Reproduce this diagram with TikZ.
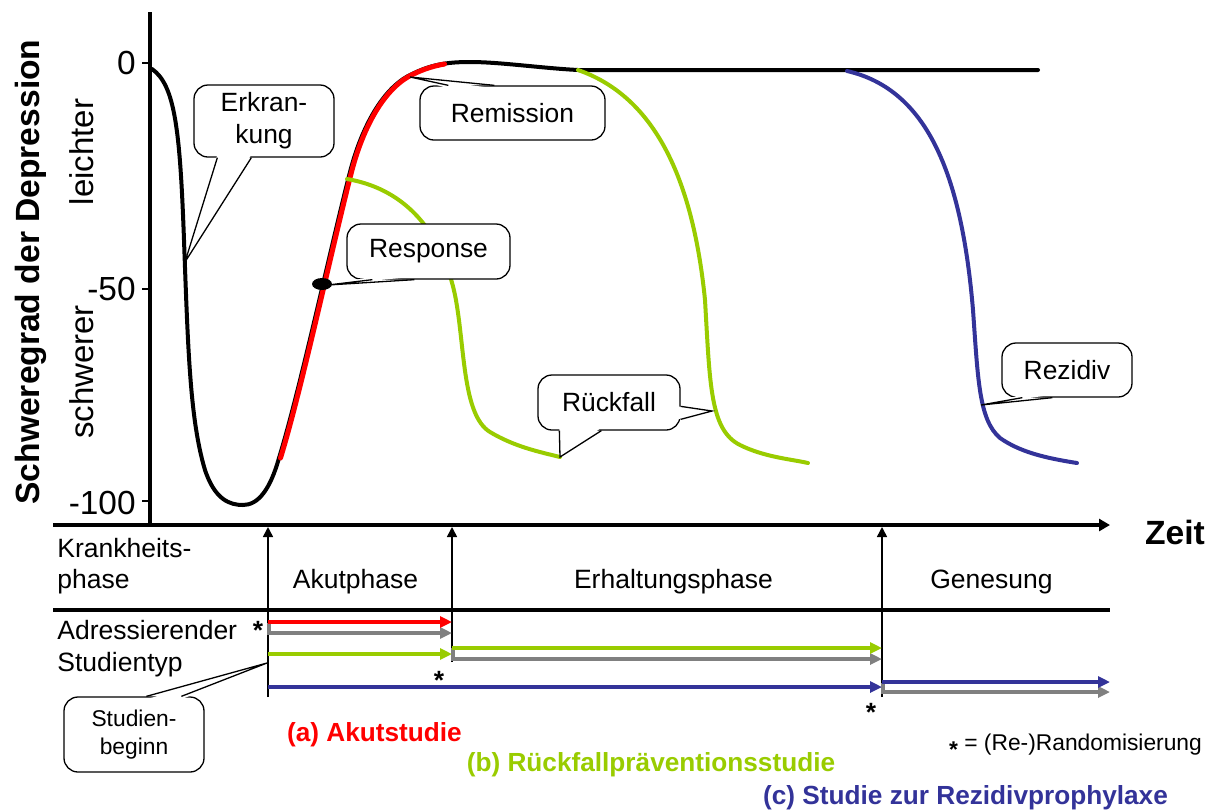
\documentclass[tikz,border=0pt]{standalone}
\usepackage{fontspec}
\setmainfont{Liberation Sans}
\usetikzlibrary{arrows.meta,calc,shapes.geometric}
\definecolor{cred}{RGB}{255,0,0}
\definecolor{cgreen}{RGB}{153,204,0}
\definecolor{cblue}{RGB}{51,51,153}
\definecolor{cgray}{RGB}{128,128,128}
\tikzset{
  crv/.style={line width=2pt, line cap=round, line join=round},
  axline/.style={line width=2pt},
  cbox/.style={draw, fill=white, line width=0.65pt, rounded corners=7pt, align=center,
    font=\fontsize{13.2}{16}\selectfont, inner sep=0pt},
  cline/.style={line width=0.65pt, line join=miter},
  lbl/.style={font=\fontsize{13.25}{15.5}\selectfont, inner sep=0pt},
  ticklbl/.style={font=\fontsize{16.7}{20}\selectfont, inner sep=0pt, anchor=east},
  sidelbl/.style={font=\fontsize{16.5}{20}\selectfont, inner sep=0pt, rotate=90},
  sarrow/.style={line width=2pt, line join=miter, -{Triangle[length=6pt,width=5.5pt]}},
  uparrow/.style={line width=0.8pt, -{Triangle[length=5pt,width=5pt]}},
  star/.style={font=\bfseries\fontsize{13.2}{16}\selectfont, inner sep=0pt, anchor=north},
  legend/.style={font=\bfseries\fontsize{13.1}{16}\selectfont, inner sep=0pt, anchor=base},
}
\begin{document}
\begin{tikzpicture}[x=0.5pt,y=-0.5pt]
\fill[white] (0,0) rectangle (1215,810);
\useasboundingbox (0,0) rectangle (1215,810);

% ---------- axes ----------
\draw[line width=1.6pt] (150,12) -- (150,525);
\foreach \yy in {63,289,501} \draw[line width=0.8pt] (142,\yy) -- (150,\yy);
\node[ticklbl] (t0) at (136,63) {0};
\node[ticklbl] (t50) at (136,289) {-50};
\node[ticklbl] (t100) at (136,503) {-100};
\node[sidelbl] (leicht) at (82,152) {leichter};
\node[sidelbl] (schwer) at (82,372) {schwerer};
\node[font=\bfseries\fontsize{16.8}{20}\selectfont, inner sep=0pt, rotate=90] (ylab) at (31,272) {Schweregrad der Depression};

\draw[axline, -{Triangle[length=5.5pt,width=6pt]}] (53,525) -- (1110,525);
\node[font=\bfseries\fontsize{16.8}{20}\selectfont, inner sep=0pt] (zeit) at (1175,532) {Zeit};
\draw[axline] (53,610) -- (1110,610);

% ---------- curves ----------
\draw[crv] (152,69) .. controls (175,85) and (180,130) .. (184,240)
  .. controls (188,350) and (190,420) .. (205,470)
  .. controls (215,500) and (230,505) .. (243,505)
  .. controls (258,505) and (270,490) .. (279,458)
  .. controls (300,390) and (330,250) .. (350,172)
  .. controls (360,133) and (380,90) .. (410,75)
  .. controls (430,65) and (445,62) .. (470,62)
  .. controls (500,62) and (540,68) .. (578,70) -- (1038,70);
\draw[crv, cred, line width=2.5pt, xshift=0.75pt] (279,458)
  .. controls (300,390) and (330,250) .. (350,172)
  .. controls (360,133) and (380,90) .. (410,75)
  .. controls (422,69) and (432,66) .. (443,64);
\draw[crv, cgreen] (347,179) .. controls (400,188) and (440,225) .. (455,295)
  .. controls (465,345) and (462,415) .. (490,432)
  .. controls (515,447) and (540,452) .. (560,457);
\draw[crv, cgreen] (578,70) .. controls (650,95) and (692,170) .. (705,300)
  .. controls (710,385) and (710,430) .. (740,445)
  .. controls (764,457) and (790,459) .. (808,463);
\draw[crv, cblue] (847,71) .. controls (930,90) and (962,180) .. (973,310)
  .. controls (978,380) and (979,420) .. (1000,438)
  .. controls (1020,452) and (1045,458) .. (1077,463);

\node[ellipse, fill=black, minimum width=10pt, minimum height=6pt, inner sep=0pt] (dot) at (322,284) {};

% ---------- callouts ----------
\coordinate (erkTip) at (185,262);
\coordinate (remTip) at (410,77);
\coordinate (resTip) at (328,285);
\coordinate (rueTipA) at (560,457);
\coordinate (rueTipB) at (712,411);
\coordinate (rezTip) at (981,405);
\coordinate (stuTip) at (267,663);

\node[cbox, minimum width=70pt, minimum height=36pt] (erk) at (264,121) {Erkran-\\kung};
\fill[white] ($(erk.south west)+(24,-3)$) -- (erkTip) -- ($(erk.south west)+(58,-3)$) -- cycle;
\draw[cline] ($(erk.south west)+(24,0)$) -- (erkTip) -- ($(erk.south west)+(58,0)$);

\node[cbox, minimum width=92.5pt, minimum height=27pt] (rem) at (512.5,113) {Remission};
\fill[white] ($(rem.north west)+(29,3)$) -- (remTip) -- ($(rem.north west)+(75,3)$) -- cycle;
\draw[cline] ($(rem.north west)+(29,0)$) -- (remTip) -- ($(rem.north west)+(75,0)$);

\node[cbox, minimum width=81.5pt, minimum height=27.5pt] (res) at (428.5,251.5) {Response};
\fill[white] ($(res.south west)+(26,-3)$) -- (resTip) -- ($(res.south west)+(68,-3)$) -- cycle;
\draw[cline] ($(res.south west)+(26,0)$) -- (resTip) -- ($(res.south west)+(68,0)$);

\node[cbox, minimum width=71pt, minimum height=27.5pt] (rue) at (609,402.5) {Rückfall};
\fill[white] ($(rue.south west)+(22,-3)$) -- (rueTipA) -- ($(rue.south west)+(64,-3)$) -- cycle;
\draw[cline] ($(rue.south west)+(22,0)$) -- (rueTipA) -- ($(rue.south west)+(64,0)$);
\fill[white] ($(rue.north east)+(-3,32)$) -- (rueTipB) -- ($(rue.north east)+(-3,45)$) -- cycle;
\draw[cline] ($(rue.north east)+(0,32)$) -- (rueTipB) -- ($(rue.north east)+(0,45)$);

\node[cbox, minimum width=65pt, minimum height=27pt] (rez) at (1067,370) {Rezidiv};
\fill[white] ($(rez.south west)+(21,-3)$) -- (rezTip) -- ($(rez.south west)+(51,-3)$) -- cycle;
\draw[cline] ($(rez.south west)+(21,0)$) -- (rezTip) -- ($(rez.south west)+(51,0)$);

% ---------- phase table ----------
\node[lbl, anchor=west, align=left] (kph) at (57,566) {Krankheits-\\phase};
\node[lbl, anchor=base] (akut) at (355.5,588) {Akutphase};
\node[lbl, anchor=base] (erh) at (673.5,588) {Erhaltungsphase};
\node[lbl, anchor=base] (gen) at (991.5,588) {Genesung};
\node[lbl, anchor=west, align=left, font=\fontsize{13.25}{16}\selectfont] (adr) at (57,649) {Adressierender\\Studientyp};

\coordinate (pA) at (268,697);
\coordinate (pB) at (452,662);
\coordinate (pC) at (882,697);
\draw[uparrow] (pA) -- (268,527);
\draw[uparrow] (pB) -- (452,527);
\draw[uparrow] (pC) -- (882,527);

% study arrows
\draw[sarrow, cgray] (269,623) -- (269,633) -- (452,633);
\draw[sarrow, cred] (268,622) -- (452,622);
\draw[sarrow, cgreen] (268,654) -- (452,654);
\draw[sarrow, cgray] (453,648) -- (453,659) -- (882,659);
\draw[sarrow, cgreen] (452,648) -- (882,648);
\draw[sarrow, cblue] (268,687) -- (882,687);
\draw[sarrow, cgray] (883,683) -- (883,692) -- (1110,692);
\draw[sarrow, cblue] (882,682) -- (1110,682);

\node[star] (s1) at (258,621) {*};
\node[star] (s2) at (439,671) {*};
\node[star] (s3) at (871,703) {*};

\node[cbox, minimum width=70pt, minimum height=37.5pt, font=\fontsize{11.4}{14}\selectfont] (stu) at (134,734.5) {Studien-\\beginn};
\fill[white] ($(stu.north west)+(83,3)$) -- (stuTip) -- ($(stu.north west)+(118,3)$) -- cycle;
\draw[cline] ($(stu.north west)+(83,0)$) -- (stuTip) -- ($(stu.north west)+(118,0)$);

% ---------- legend ----------
\node[legend, text=cred] (la) at (374.5,741) {(a) Akutstudie};
\node[legend, text=cgreen] (lb) at (651,771) {(b) Rückfallpräventionsstudie};
\node[legend, text=cblue] (lc) at (965.5,804) {(c) Studie zur Rezidivprophylaxe};
\node[font=\fontsize{11.4}{14}\selectfont, inner sep=0pt, anchor=base] (rnd) at (1075.5,750) {{\bfseries\raisebox{-3.5pt}{*}} = (Re-)Randomisierung};
\end{tikzpicture}
\end{document}
